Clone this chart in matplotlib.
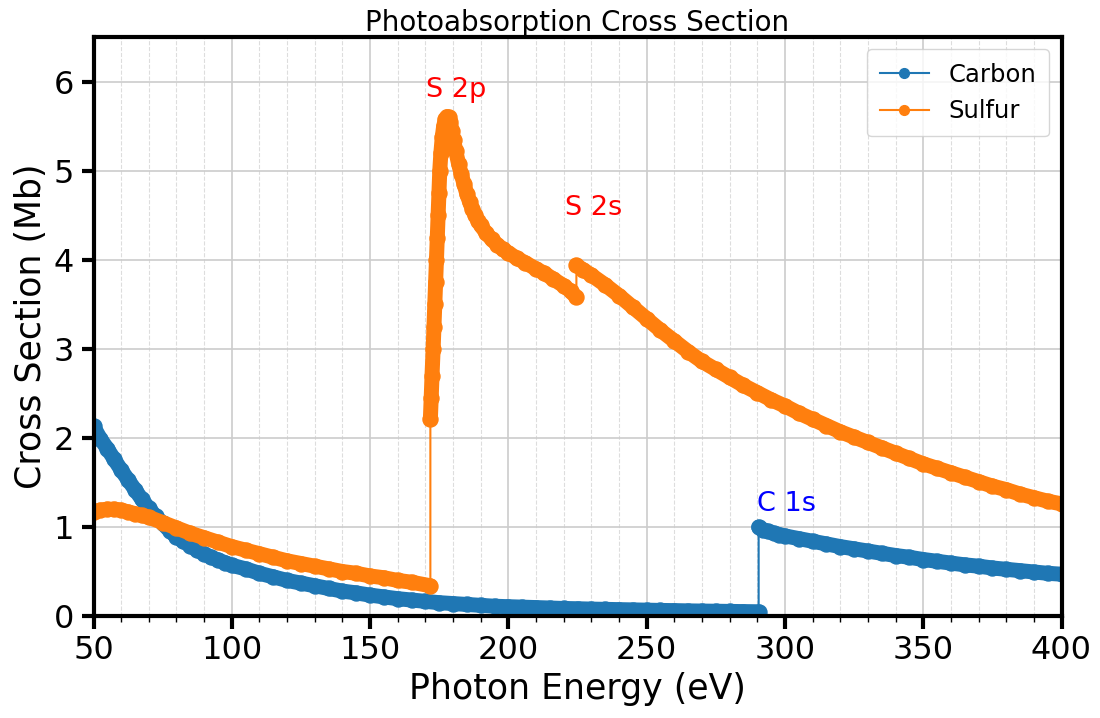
import matplotlib
matplotlib.use("Agg")
import matplotlib.pyplot as plt
from matplotlib.ticker import MultipleLocator

# Carbon: below and above the C 1s edge
carbon_e_low = [50, 52.5, 55, 57.5, 60, 62.5, 65, 67.5, 70, 72.5, 75, 77.5, 80, 82.5, 85,
                87.5, 90, 92.5, 95, 97.5, 100, 105, 110, 115, 120, 125, 130, 135, 140, 145,
                150, 155, 160, 165, 170, 175, 180, 185, 190, 195, 200, 205, 210, 215, 220,
                225, 230, 235, 240, 245, 250, 255, 260, 265, 270, 275, 280, 285, 290.5]
carbon_cs_low = [2.13, 1.99, 1.88, 1.76, 1.64, 1.53, 1.42, 1.31, 1.21, 1.12, 1.04, 0.96, 0.89, 0.84, 0.79,
                 0.74, 0.70, 0.66, 0.63, 0.60, 0.57, 0.53, 0.48, 0.44, 0.40, 0.37, 0.34, 0.31, 0.28, 0.26,
                 0.235, 0.215, 0.195, 0.18, 0.165, 0.15, 0.14, 0.13, 0.12, 0.11, 0.105, 0.10, 0.095, 0.09, 0.085,
                 0.082, 0.078, 0.075, 0.072, 0.069, 0.066, 0.063, 0.061, 0.058, 0.056, 0.054, 0.052, 0.050, 0.048]
carbon_e_high = [290.5, 292, 294, 296, 298, 300, 305, 310, 315, 320, 325, 330, 335, 340, 345,
                 350, 355, 360, 365, 370, 375, 380, 385, 390, 395, 400]
carbon_cs_high = [1.00, 0.97, 0.95, 0.93, 0.915, 0.90, 0.87, 0.84, 0.81, 0.78, 0.755, 0.73, 0.705, 0.68, 0.66,
                  0.635, 0.615, 0.595, 0.575, 0.56, 0.54, 0.525, 0.51, 0.495, 0.48, 0.47]

# Sulfur: below S 2p, S 2p to S 2s, above S 2s
sulfur_e_low = [50, 52.5, 55, 57.5, 60, 62.5, 65, 67.5, 70, 75, 80, 85, 90, 95, 100, 105, 110,
                115, 120, 125, 130, 135, 140, 145, 150, 155, 160, 165, 171.8]
sulfur_cs_low = [1.17, 1.19, 1.20, 1.20, 1.19, 1.17, 1.15, 1.13, 1.11, 1.05, 0.99, 0.93, 0.88, 0.83, 0.78, 0.74, 0.70,
                 0.66, 0.62, 0.59, 0.56, 0.53, 0.50, 0.48, 0.45, 0.43, 0.40, 0.38, 0.34]
sulfur_e_mid = [171.8, 172.1, 172.4, 172.8, 173.1, 173.4, 173.7, 174.0, 174.3, 174.6, 174.9, 175.2,
                175.6, 176.1, 176.6, 177.2, 177.8, 178.4, 179.0, 179.6, 180.2, 181, 182, 183, 184,
                185, 186, 187, 188, 189, 190, 192, 194, 196, 198, 200, 203, 206, 210, 213, 216,
                220, 222.5, 224.6]
sulfur_cs_mid = [2.21, 2.45, 2.70, 3.00, 3.25, 3.50, 3.75, 4.00, 4.25, 4.50, 4.75, 5.00,
                 5.20, 5.38, 5.50, 5.58, 5.61, 5.60, 5.55, 5.45, 5.35, 5.22, 5.08, 4.96, 4.85,
                 4.74, 4.65, 4.57, 4.50, 4.44, 4.39, 4.30, 4.23, 4.17, 4.12, 4.08, 4.02, 3.97, 3.90, 3.85, 3.79,
                 3.71, 3.65, 3.58]
sulfur_e_high = [224.6, 227, 230, 235, 240, 245, 250, 255, 260, 265, 270, 275, 280, 285, 290, 295,
                 300, 305, 310, 315, 320, 325, 330, 335, 340, 345, 350, 355, 360, 365, 370, 375,
                 380, 385, 390, 395, 400]
sulfur_cs_high = [3.94, 3.89, 3.83, 3.72, 3.60, 3.47, 3.34, 3.21, 3.09, 2.97, 2.86, 2.77, 2.68, 2.59, 2.51, 2.43,
                  2.36, 2.28, 2.21, 2.14, 2.07, 2.01, 1.95, 1.89, 1.83, 1.77, 1.71, 1.66, 1.61, 1.56, 1.51, 1.46,
                  1.42, 1.37, 1.33, 1.29, 1.26]

# Edge labels
edge_labels = ["S 2p", "S 2s", "C 1s"]
edge_pos = [(170.3, 5.83), (220.3, 4.51), (289.9, 1.18)]
edge_colors = ["red", "red", "blue"]

BLUE = "#1f77b4"
ORANGE = "#ff7f0e"
MS = 10.8  # marker size (pt); the dense markers form a band this wide

fig = plt.figure(figsize=(11, 7.18), dpi=100)
ax = fig.add_axes([0.085, 0.142, 0.88, 0.806])

series = [
    ("Carbon", BLUE, [(carbon_e_low, carbon_cs_low), (carbon_e_high, carbon_cs_high)]),
    ("Sulfur", ORANGE, [(sulfur_e_low, sulfur_cs_low), (sulfur_e_mid, sulfur_cs_mid),
                        (sulfur_e_high, sulfur_cs_high)]),
]

for name, color, segs in series:
    # thick band per segment (data sampled densely in the original)
    for e, cs in segs:
        ax.plot(e, cs, "-", color=color, linewidth=MS, solid_capstyle="round",
                solid_joinstyle="round")
    all_e = sum((s[0] for s in segs), [])
    all_cs = sum((s[1] for s in segs), [])
    ax.plot(all_e, all_cs, "o-", color=color, markersize=MS, linewidth=1.5, label=name)

for txt, (xe, ye), c in zip(edge_labels, edge_pos, edge_colors):
    ax.text(xe, ye, txt, color=c, fontsize=19.5, ha="left", va="baseline")

ax.set_xlim(50, 400)
ax.set_ylim(0, 6.5)
ax.xaxis.set_major_locator(MultipleLocator(50))
ax.xaxis.set_minor_locator(MultipleLocator(10))
ax.yaxis.set_major_locator(MultipleLocator(1))

ax.grid(True, which="major", color="#cccccc", linewidth=1.2)
ax.grid(True, which="minor", axis="x", color="#dddddd", linestyle="--", linewidth=0.8)
ax.set_axisbelow(True)

for sp in ax.spines.values():
    sp.set_linewidth(3)
ax.tick_params(which="major", length=9, width=3, labelsize=23, pad=5)
ax.tick_params(which="minor", length=4, width=1)

ax.set_xlabel("Photon Energy (eV)", fontsize=25)
ax.set_ylabel("Cross Section (Mb)", fontsize=25)
ax.set_title("Photoabsorption Cross Section", fontsize=20, pad=4)
ax.legend(loc="upper right", fontsize=17.5, markerscale=0.65, borderpad=0.55,
          labelspacing=0.5)

fig.savefig("out.png", dpi=100)
